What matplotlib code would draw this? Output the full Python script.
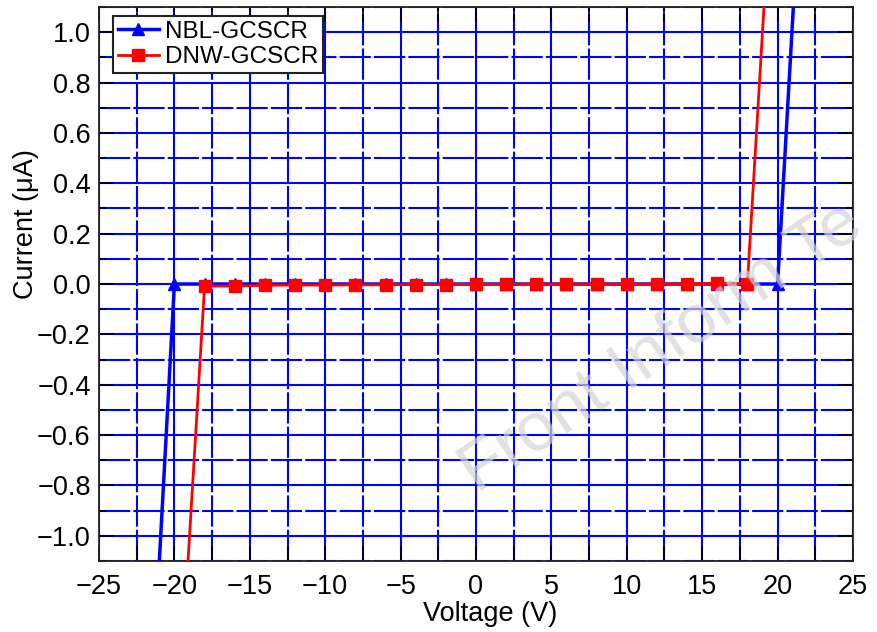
import numpy as np
import matplotlib.pyplot as plt
from matplotlib.ticker import MultipleLocator

plt.rcParams['font.family'] = ['Liberation Sans', 'DejaVu Sans']

# NBL-GCSCR (blue triangles)
v_nbl = [-22, -20, -18, -16, -14, -12, -10, -8, -6, -4, -2, 0, 2, 4, 6, 8, 10, 12, 14, 16, 18, 20, 22]
i_nbl = [-2.2, 0.0, 0.0, 0.0, 0.0, 0.0, 0.0, 0.0, 0.0, 0.0, 0.0, 0.0, 0.0, 0.0, 0.0, 0.0, 0.0, 0.0, 0.0, 0.0, 0.0, 0.0, 2.1]

# DNW-GCSCR (red squares)
v_dnw = [-20, -18, -16, -14, -12, -10, -8, -6, -4, -2, 0, 2, 4, 6, 8, 10, 12, 14, 16, 18, 20]
i_dnw = [-2.0, -0.008, -0.008, -0.005, -0.004, -0.004, -0.003, -0.003, -0.002, -0.002, -0.001,
         -0.001, 0.0, 0.0, 0.0, 0.0, 0.0, 0.001, 0.003, 0.002, 2.0]

fig = plt.figure(figsize=(8.77, 6.32), dpi=100)
ax = fig.add_axes([0.1129, 0.1123, 0.8597, 0.8766])

ax.plot(v_nbl, i_nbl, color='blue', lw=2.5, marker='^', ms=8.5, label='NBL-GCSCR', zorder=3)
ax.plot(v_dnw, i_dnw, color='red', lw=2, marker='s', ms=9, label='DNW-GCSCR', zorder=4)

ax.set_xlim(-25, 25)
ax.set_ylim(-1.1, 1.1)
ax.xaxis.set_major_locator(MultipleLocator(5))
ax.xaxis.set_minor_locator(MultipleLocator(2.5))
ax.yaxis.set_major_locator(MultipleLocator(0.2))
ax.yaxis.set_minor_locator(MultipleLocator(0.1))
ax.yaxis.set_major_formatter(plt.FuncFormatter(lambda v, p: f'{v:.1f}'.replace('-', '\u2212')))

ax.grid(which='major', color='blue', lw=1.5, ls='-', zorder=1)
ax.grid(which='minor', color='blue', lw=1.5, ls=(0, (15, 1.5)), zorder=1)
ax.set_axisbelow(True)

ax.tick_params(which='both', direction='in', length=11, width=1.2, color='black',
               top=True, right=True, labelsize=19.5)
ax.tick_params(axis='y', which='minor', length=5)
ax.tick_params(axis='y', pad=6)
ax.tick_params(axis='x', pad=9)
for s in ax.spines.values():
    s.set_linewidth(1.3)
    s.set_color('#222222')

ax.set_xlabel('Voltage (V)', fontsize=19.5)
ax.set_ylabel('Current (\u03bcA)', fontsize=19.5)
ax.xaxis.set_label_coords(0.519, -0.072)
ax.yaxis.set_label_coords(-0.079, 0.608)

leg = ax.legend(loc='upper left', bbox_to_anchor=(0.012, 0.993), fontsize=17.5,
                handlelength=1.7, handletextpad=0.25, borderpad=0.2, labelspacing=0.15,
                borderaxespad=0.2, fancybox=False, framealpha=1, edgecolor='#222222')
leg.get_frame().set_linewidth(1.5)

fig.text(0.512, 0.2, 'Front Inform Te', fontsize=50, color='#d4d4d4', alpha=0.7,
         rotation=34, ha='left', va='bottom', zorder=10)

fig.savefig('out.png', dpi=100)
